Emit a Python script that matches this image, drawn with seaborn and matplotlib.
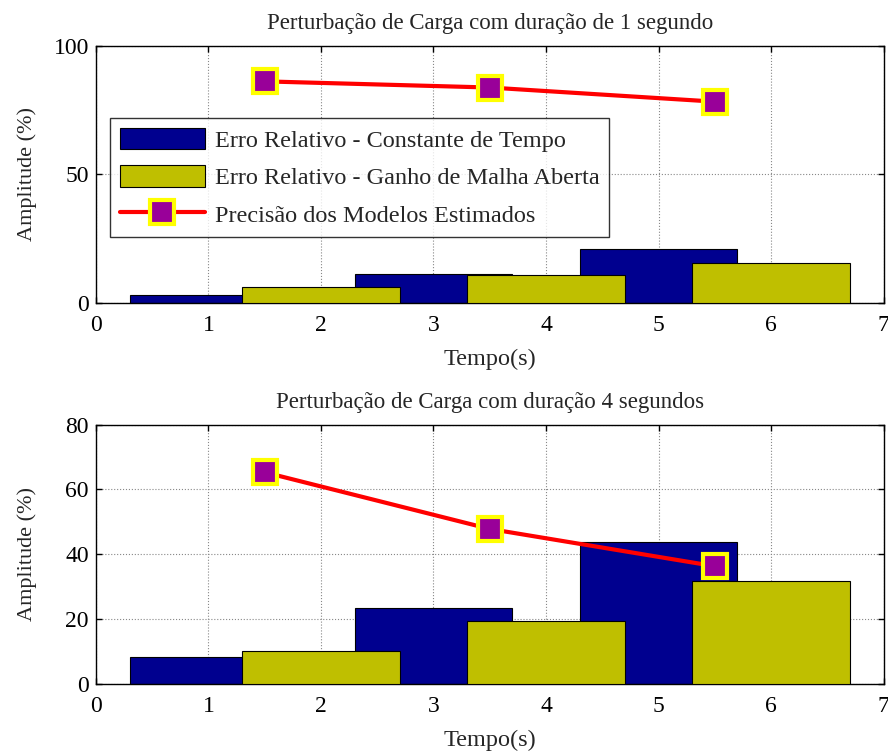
import numpy as np
import pandas as pd
import seaborn as sns
from matplotlib import pyplot as plt

# ---- data ----
x_const = [1, 3, 5]
x_ganho = [2, 4, 6]
x_prec = [1.5, 3.5, 5.5]

const_1s = [3, 11, 21]
ganho_1s = [6, 10.6, 15.5]
prec_1s = [86.2, 83.8, 78.3]

const_4s = [8.3, 23.3, 43.8]
ganho_4s = [10.1, 19.5, 31.8]
prec_4s = [65.3, 47.8, 36.3]

titles = ["Perturbação de Carga com duração de 1 segundo",
          "Perturbação de Carga com duração 4 segundos"]
ylims = [100, 80]
yticks = [[0, 50, 100], [0, 20, 40, 60, 80]]

blue = "#00008F"
olive = "#BFBF00"

sns.set_theme(style="white")
plt.rcParams['font.family'] = ['Liberation Serif', 'DejaVu Serif']

fig = plt.figure(figsize=(8.88, 7.53), dpi=100)
ax1 = fig.add_axes([0.108, 0.598, 0.887, 0.341])
ax2 = fig.add_axes([0.108, 0.092, 0.887, 0.344])

sets = [(ax1, const_1s, ganho_1s, prec_1s),
        (ax2, const_4s, ganho_4s, prec_4s)]

for k, (ax, c, g, p) in enumerate(sets):
    sns.barplot(x=x_const, y=c, native_scale=True, width=0.7, color=blue,
                saturation=1, edgecolor="black", linewidth=0.8, ax=ax,
                label="Erro Relativo - Constante de Tempo", zorder=2)
    sns.barplot(x=x_ganho, y=g, native_scale=True, width=0.7, color=olive,
                saturation=1, edgecolor="black", linewidth=0.8, ax=ax,
                label="Erro Relativo - Ganho de Malha Aberta", zorder=3)
    sns.lineplot(x=x_prec, y=p, color="red", linewidth=3, marker="s",
                 markersize=17, markerfacecolor="#990099",
                 markeredgecolor="#FFFF00", markeredgewidth=3, ax=ax,
                 label="Precisão dos Modelos Estimados", zorder=4)

    ax.set_xlim(0, 7)
    ax.set_ylim(0, ylims[k])
    ax.set_xticks(range(8))
    ax.set_xticklabels([str(i) for i in range(8)])
    ax.set_yticks(yticks[k])
    ax.grid(True, color="#888888", linestyle=":", linewidth=0.8, zorder=0)
    ax.set_axisbelow(True)
    for s in ax.spines.values():
        s.set_color("black")
        s.set_linewidth(1.0)
    ax.tick_params(direction="in", length=4, width=1, labelsize=17,
                   top=True, right=True, bottom=True, left=True,
                   colors="black")
    ax.tick_params(axis="x", pad=9)
    ax.tick_params(axis="y", pad=5)
    ax.set_xlabel("Tempo(s)", fontsize=17.5, labelpad=9)
    ax.set_ylabel("Amplitude (%)", fontsize=16)
    ax.yaxis.set_label_coords(-0.075, 0.5)
    ax.set_title(titles[k], fontsize=16.5, pad=12)

    if k == 0:
        h, l = ax.get_legend_handles_labels()
        order = [l.index("Erro Relativo - Constante de Tempo"),
                 l.index("Erro Relativo - Ganho de Malha Aberta"),
                 l.index("Precisão dos Modelos Estimados")]
        leg = ax.legend([h[i] for i in order], [l[i] for i in order],
                        loc="upper left", bbox_to_anchor=(0.018, 0.72),
                        fontsize=17.5, frameon=True, fancybox=False,
                        edgecolor="black", handlelength=3.5,
                        handleheight=1.0, labelspacing=0.55,
                        borderpad=0.4, handletextpad=0.4, borderaxespad=0)
        leg.get_frame().set_linewidth(1.0)
    else:
        if ax.get_legend() is not None:
            ax.get_legend().remove()

fig.savefig("out.png", dpi=100)
